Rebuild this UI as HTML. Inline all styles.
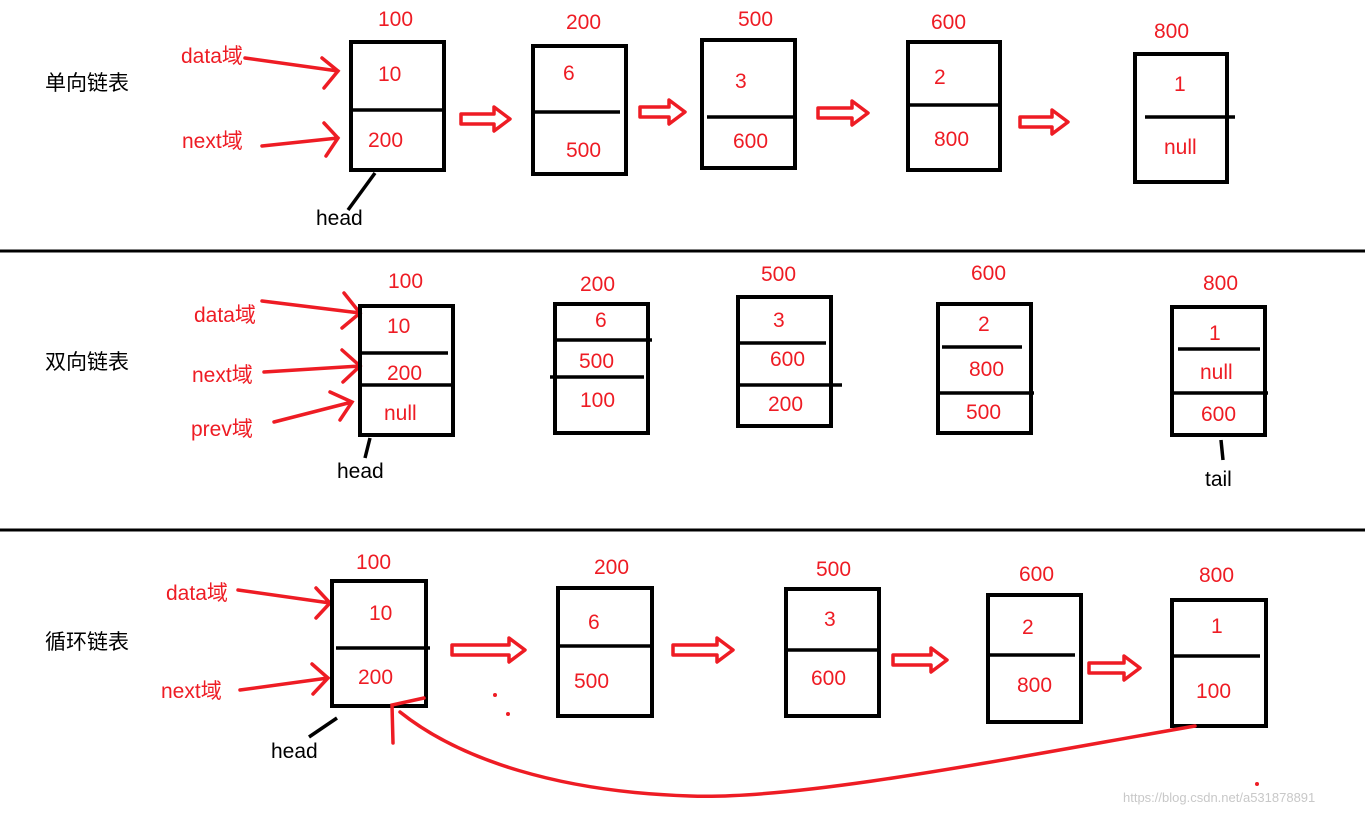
<!DOCTYPE html>
<html><head><meta charset="utf-8"><style>
html,body{margin:0;padding:0;background:#fff;}
svg{display:block;}
.r{fill:#ee1c24;font-family:"Liberation Sans","Noto Sans CJK SC",sans-serif;font-size:21px;}
.k{fill:#000;font-family:"Liberation Sans","Noto Sans CJK SC",sans-serif;font-size:21px;}
.b{fill:none;stroke:#000;stroke-width:4;}
.d{stroke:#000;stroke-width:3.5;}
.ra{stroke:#ee1c24;stroke-width:3.5;fill:none;stroke-linecap:round;}
.ho{fill:#fff;stroke:#ee1c24;stroke-width:3.5;stroke-linejoin:round;}
</style></head><body>
<svg width="1365" height="815" viewBox="0 0 1365 815" xmlns="http://www.w3.org/2000/svg">
<!-- separators -->
<line x1="0" y1="251" x2="1365" y2="251" stroke="#000" stroke-width="3"/>
<line x1="0" y1="530" x2="1365" y2="530" stroke="#000" stroke-width="3"/>

<!-- titles -->
<text class="k" x="45" y="90" font-size="20">单向链表</text>
<text class="k" x="45" y="369" font-size="20">双向链表</text>
<text class="k" x="45" y="649" font-size="20">循环链表</text>

<!-- ROW 1 -->
<text class="r" x="181" y="63">data域</text>
<text class="r" x="182" y="148">next域</text>
<path class="ra" d="M245 58 L338 71 M322 58 L338 71 L324 88"/>
<path class="ra" d="M262 146 L338 138 M324 123 L338 138 L326 156"/>
<rect class="b" x="351" y="42" width="93" height="128"/><line class="d" x1="351" y1="110" x2="444" y2="110"/>
<text class="r" x="378" y="26">100</text><text class="r" x="378" y="81">10</text><text class="r" x="368" y="147">200</text>
<line class="d" x1="375" y1="173" x2="348" y2="210"/><text class="k" x="316" y="225">head</text>

<rect class="b" x="533" y="46" width="93" height="128"/><line class="d" x1="533" y1="112" x2="620" y2="112"/>
<text class="r" x="566" y="29">200</text><text class="r" x="563" y="80">6</text><text class="r" x="566" y="157">500</text>

<rect class="b" x="702" y="40" width="93" height="128"/><line class="d" x1="707" y1="117" x2="795" y2="117"/>
<text class="r" x="738" y="26">500</text><text class="r" x="735" y="88">3</text><text class="r" x="733" y="148">600</text>

<rect class="b" x="908" y="42" width="92" height="128"/><line class="d" x1="908" y1="105" x2="1000" y2="105"/>
<text class="r" x="931" y="29">600</text><text class="r" x="934" y="84">2</text><text class="r" x="934" y="146">800</text>

<rect class="b" x="1135" y="54" width="92" height="128"/><line class="d" x1="1145" y1="117" x2="1235" y2="117"/>
<text class="r" x="1154" y="38">800</text><text class="r" x="1174" y="91">1</text><text class="r" x="1164" y="154">null</text>

<polygon class="ho" points="461,114 494,114 494,107 510,119 494,131 494,124 461,124"/>
<polygon class="ho" points="640,107 669,107 669,100 685,112 669,124 669,117 640,117"/>
<polygon class="ho" points="818,108 852,108 852,101 868,113 852,125 852,118 818,118"/>
<polygon class="ho" points="1020,117 1052,117 1052,110 1068,122 1052,134 1052,127 1020,127"/>

<!-- ROW 2 -->
<text class="r" x="194" y="322">data域</text>
<text class="r" x="192" y="382">next域</text>
<text class="r" x="191" y="436">prev域</text>
<path class="ra" d="M262 301 L360 313 M344 293 L360 313 L342 328"/>
<path class="ra" d="M264 372 L360 366 M342 350 L360 366 L343 382"/>
<path class="ra" d="M274 422 L352 402 M330 392 L352 402 L340 420"/>
<rect class="b" x="360" y="306" width="93" height="129"/>
<line class="d" x1="360" y1="353" x2="448" y2="353"/><line class="d" x1="360" y1="385" x2="453" y2="385"/>
<text class="r" x="388" y="288">100</text><text class="r" x="387" y="333">10</text><text class="r" x="387" y="380">200</text><text class="r" x="384" y="420">null</text>
<line class="d" x1="370" y1="438" x2="365" y2="458"/><text class="k" x="337" y="478">head</text>

<rect class="b" x="555" y="304" width="93" height="129"/>
<line class="d" x1="555" y1="340" x2="652" y2="340"/><line class="d" x1="550" y1="377" x2="644" y2="377"/>
<text class="r" x="580" y="291">200</text><text class="r" x="595" y="327">6</text><text class="r" x="579" y="368">500</text><text class="r" x="580" y="407">100</text>

<rect class="b" x="738" y="297" width="93" height="129"/>
<line class="d" x1="740" y1="343" x2="826" y2="343"/><line class="d" x1="740" y1="385" x2="842" y2="385"/>
<text class="r" x="761" y="281">500</text><text class="r" x="773" y="327">3</text><text class="r" x="770" y="366">600</text><text class="r" x="768" y="411">200</text>

<rect class="b" x="938" y="304" width="93" height="129"/>
<line class="d" x1="942" y1="347" x2="1022" y2="347"/><line class="d" x1="938" y1="393" x2="1034" y2="393"/>
<text class="r" x="971" y="280">600</text><text class="r" x="978" y="331">2</text><text class="r" x="969" y="376">800</text><text class="r" x="966" y="419">500</text>

<rect class="b" x="1172" y="307" width="93" height="128"/>
<line class="d" x1="1178" y1="349" x2="1260" y2="349"/><line class="d" x1="1172" y1="393" x2="1268" y2="393"/>
<text class="r" x="1203" y="290">800</text><text class="r" x="1209" y="340">1</text><text class="r" x="1200" y="379">null</text><text class="r" x="1201" y="421">600</text>
<line class="d" x1="1221" y1="440" x2="1223" y2="460"/><text class="k" x="1205" y="486">tail</text>

<!-- ROW 3 -->
<text class="r" x="166" y="600">data域</text>
<text class="r" x="161" y="698">next域</text>
<path class="ra" d="M238 590 L330 603 M316 588 L330 603 L316 618"/>
<path class="ra" d="M240 690 L328 678 M312 664 L328 678 L313 694"/>
<rect class="b" x="332" y="581" width="94" height="125"/><line class="d" x1="336" y1="648" x2="430" y2="648"/>
<text class="r" x="356" y="569">100</text><text class="r" x="369" y="620">10</text><text class="r" x="358" y="684">200</text>
<line class="d" x1="337" y1="718" x2="309" y2="737"/><text class="k" x="271" y="758">head</text>

<rect class="b" x="558" y="588" width="94" height="128"/><line class="d" x1="556" y1="646" x2="652" y2="646"/>
<text class="r" x="594" y="574">200</text><text class="r" x="588" y="629">6</text><text class="r" x="574" y="688">500</text>

<rect class="b" x="786" y="589" width="93" height="127"/><line class="d" x1="786" y1="650" x2="879" y2="650"/>
<text class="r" x="816" y="576">500</text><text class="r" x="824" y="626">3</text><text class="r" x="811" y="685">600</text>

<rect class="b" x="988" y="595" width="93" height="127"/><line class="d" x1="990" y1="655" x2="1075" y2="655"/>
<text class="r" x="1019" y="581">600</text><text class="r" x="1022" y="634">2</text><text class="r" x="1017" y="692">800</text>

<rect class="b" x="1172" y="600" width="94" height="126"/><line class="d" x1="1174" y1="656" x2="1260" y2="656"/>
<text class="r" x="1199" y="582">800</text><text class="r" x="1211" y="633">1</text><text class="r" x="1196" y="698">100</text>

<polygon class="ho" points="452,645 509,645 509,638 525,650 509,662 509,655 452,655"/>
<polygon class="ho" points="673,645 717,645 717,638 733,650 717,662 717,655 673,655"/>
<polygon class="ho" points="893,655 931,655 931,648 947,660 931,672 931,665 893,665"/>
<polygon class="ho" points="1089,663 1124,663 1124,656 1140,668 1124,680 1124,673 1089,673"/>

<path class="ra" d="M1195 726 C1000 760 800 800 690 796 C560 792 460 760 400 712"/>
<path class="ra" d="M393 743 L392 705 L424 698"/>
<circle cx="495" cy="695" r="2" fill="#ee1c24"/>
<circle cx="508" cy="714" r="2" fill="#ee1c24"/>
<circle cx="1257" cy="784" r="2" fill="#ee1c24"/>

<text x="1123" y="802" fill="#c8c8c8" font-family="Liberation Sans, sans-serif" font-size="13">https://blog.csdn.net/a531878891</text>
</svg>
</body></html>
